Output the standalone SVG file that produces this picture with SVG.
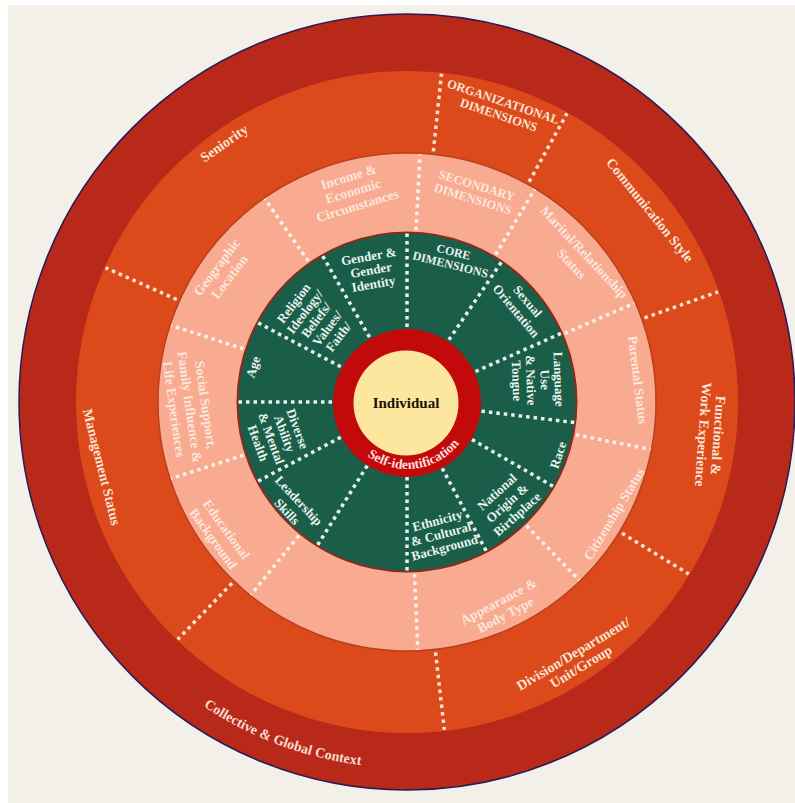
<svg xmlns="http://www.w3.org/2000/svg" width="795" height="803" viewBox="0 0 795 803">
  <defs>
    <style>
      text { font-family: "Liberation Serif", "Times New Roman", serif; font-weight: bold; text-anchor: middle; }
      .g { font-size: 13px; fill: #e9f3ee; }
      .gs { font-size: 12px; fill: #e9f3ee; }
      .p { font-size: 13.5px; fill: #fde7de; }
      .ps { font-size: 12.5px; fill: #fde7de; }
      .o { font-size: 14px; fill: #fbe4d5; }
      .os { font-size: 12.5px; fill: #fbe4d5; }
      .outer { font-size: 14px; fill: #f7ddd2; }
      .self { font-size: 13.5px; fill: #ffdede; }
      .dots-g { stroke: #e6f2ec; stroke-width: 3.5; stroke-dasharray: 3.5 4; fill: none; }
      .dots-p { stroke: #fff1ea; stroke-width: 3.5; stroke-dasharray: 3.5 4; fill: none; }
      .dots-o { stroke: #fae3d3; stroke-width: 3.5; stroke-dasharray: 3.5 4; fill: none; }
    </style>
    <!-- baseline arcs for curved labels -->
    <path id="arc-outer" d="M 88.4 582.2 A 366 366 0 0 0 529.2 747.0"/>
    <path id="arc-self" d="M 344.0 424.9 A 67 67 0 0 0 473.7 407.8"/>
  </defs>

  <!-- page -->
  <rect x="0" y="0" width="795" height="803" fill="#ffffff"/>
  <rect x="8" y="5" width="787" height="798" fill="#f3f0ea"/>

  <!-- concentric rings -->
  <g id="rings">
    <circle cx="407" cy="402" r="388" fill="#b9291a" stroke="#2a1a55" stroke-width="1.5"/>
    <circle cx="407" cy="402" r="331" fill="#dc4a1c"/>
    <circle cx="407" cy="402" r="249" fill="#f8ab90" stroke="#b8401f" stroke-width="1.5"/>
    <circle cx="407" cy="402" r="169.5" fill="#1a5e4a" stroke="#8a2b1e" stroke-width="2"/>
    <circle cx="407" cy="403" r="74" fill="#c20a0a"/>
  </g>

  <!-- dotted dividers between segments -->
  <g id="connectors" transform="translate(407,402)">
    <g class="dots-g">
      <line x1="75" y1="0" x2="169" y2="0" transform="rotate(-90)"/>
      <line x1="75" y1="0" x2="169" y2="0" transform="rotate(-120)"/>
      <line x1="75" y1="0" x2="169" y2="0" transform="rotate(-152)"/>
      <line x1="75" y1="0" x2="169" y2="0" transform="rotate(-180)"/>
      <line x1="75" y1="0" x2="169" y2="0" transform="rotate(-208)"/>
      <line x1="75" y1="0" x2="169" y2="0" transform="rotate(-238)"/>
      <line x1="75" y1="0" x2="169" y2="0" transform="rotate(-270)"/>
      <line x1="75" y1="0" x2="169" y2="0" transform="rotate(-298)"/>
      <line x1="75" y1="0" x2="169" y2="0" transform="rotate(-330)"/>
      <line x1="75" y1="0" x2="169" y2="0" transform="rotate(-353)"/>
      <line x1="75" y1="0" x2="169" y2="0" transform="rotate(-24)"/>
      <line x1="75" y1="0" x2="169" y2="0" transform="rotate(-56)"/>
    </g>
    <g class="dots-p">
      <line x1="172" y1="0" x2="248" y2="0" transform="rotate(-87)"/>
      <line x1="172" y1="0" x2="248" y2="0" transform="rotate(-125)"/>
      <line x1="172" y1="0" x2="248" y2="0" transform="rotate(-162)"/>
      <line x1="172" y1="0" x2="248" y2="0" transform="rotate(-198)"/>
      <line x1="172" y1="0" x2="248" y2="0" transform="rotate(-231)"/>
      <line x1="172" y1="0" x2="248" y2="0" transform="rotate(-272.5)"/>
      <line x1="172" y1="0" x2="248" y2="0" transform="rotate(-314)"/>
      <line x1="172" y1="0" x2="248" y2="0" transform="rotate(-349)"/>
      <line x1="172" y1="0" x2="248" y2="0" transform="rotate(-23.5)"/>
      <line x1="172" y1="0" x2="248" y2="0" transform="rotate(-59)"/>
    </g>
    <g class="dots-o">
      <line x1="252" y1="0" x2="330" y2="0" transform="rotate(-84)"/>
      <line x1="252" y1="0" x2="330" y2="0" transform="rotate(-61)"/>
      <line x1="252" y1="0" x2="330" y2="0" transform="rotate(-19.5)"/>
      <line x1="252" y1="0" x2="330" y2="0" transform="rotate(-328.6)"/>
      <line x1="252" y1="0" x2="330" y2="0" transform="rotate(-276.5)"/>
      <line x1="252" y1="0" x2="330" y2="0" transform="rotate(-226)"/>
      <line x1="252" y1="0" x2="330" y2="0" transform="rotate(-156)"/>
    </g>
  </g>

  <!-- centre -->
  <g id="individual">
    <circle cx="406" cy="403" r="52.5" fill="#fde69d"/>
    <text x="406" y="408" style="font-size:15px; fill:#1a1208;">Individual</text>
  </g>
  <g id="self-identification">
    <text class="self"><textPath href="#arc-self" startOffset="50%">Self-identification</textPath></text>
  </g>

  <!-- core dimensions (green ring) -->
  <g id="core-dimensions" transform="translate(452,258) rotate(14)">
    <text class="gs"><tspan x="0" y="-2.3">CORE</tspan><tspan x="0" y="10.7">DIMENSIONS</tspan></text>
  </g>
  <g id="gender" transform="translate(371,270) rotate(-10)">
    <text class="g"><tspan x="0" y="-9.5">Gender &amp;</tspan><tspan x="0" y="4.5">Gender</tspan><tspan x="0" y="18.5">Identity</tspan></text>
  </g>
  <g id="sexual-orientation" transform="translate(522,306) rotate(50)">
    <text class="g"><tspan x="0" y="-3">Sexual</tspan><tspan x="0" y="12">Orientation</tspan></text>
  </g>
  <g id="language" transform="translate(538,380) rotate(88)">
    <text class="g"><tspan x="0" y="-16.5">Language</tspan><tspan x="0" y="-2.5">Use</tspan><tspan x="0" y="11.5">&amp; Native</tspan><tspan x="0" y="25.5">Tongue</tspan></text>
  </g>
  <g id="race" transform="translate(558,455) rotate(-72)">
    <text class="g"><tspan x="0" y="4.5">Race</tspan></text>
  </g>
  <g id="national-origin" transform="translate(507,503) rotate(-42)">
    <text class="g"><tspan x="0" y="-10.5">National</tspan><tspan x="0" y="4.5">Origin &amp;</tspan><tspan x="0" y="19.5">Birthplace</tspan></text>
  </g>
  <g id="ethnicity" transform="translate(441,534) rotate(-15)">
    <text class="g"><tspan x="0" y="-9.5">Ethnicity</tspan><tspan x="0" y="4.5">&amp; Cultural</tspan><tspan x="0" y="18.5">Background</tspan></text>
  </g>
  <g id="leadership" transform="translate(293,506) rotate(47)">
    <text class="g"><tspan x="0" y="-3.5">Leadership</tspan><tspan x="0" y="12.5">Skills</tspan></text>
  </g>
  <g id="diverse-ability" transform="translate(278,436) rotate(70)">
    <text class="g"><tspan x="0" y="-16.5">Diverse</tspan><tspan x="0" y="-2.5">Ability</tspan><tspan x="0" y="11.5">&amp; Mental</tspan><tspan x="0" y="25.5">Health</tspan></text>
  </g>
  <g id="age" transform="translate(253,367) rotate(-72)">
    <text class="g"><tspan x="0" y="4.5">Age</tspan></text>
  </g>
  <g id="religion" transform="translate(316,320) rotate(-53)">
    <text class="g"><tspan x="0" y="-23.5">Religion</tspan><tspan x="0" y="-9.5">Ideology/</tspan><tspan x="0" y="4.5">Beliefs/</tspan><tspan x="0" y="18.5">Values/</tspan><tspan x="0" y="32.5">Faith/</tspan></text>
  </g>

  <!-- secondary dimensions (pink ring) -->
  <g id="secondary-dimensions" transform="translate(475,192) rotate(17)">
    <text class="ps"><tspan x="0" y="-2.6">SECONDARY</tspan><tspan x="0" y="11.4">DIMENSIONS</tspan></text>
  </g>
  <g id="income" transform="translate(353,191) rotate(-17)">
    <text class="p"><tspan x="0" y="-10.3">Income &amp;</tspan><tspan x="0" y="4.7">Economic</tspan><tspan x="0" y="19.7">Circumstances</tspan></text>
  </g>
  <g id="marital-status" transform="translate(578,258) rotate(47)">
    <text class="p"><tspan x="0" y="-3.8">Marital/Relationship</tspan><tspan x="0" y="13.2">Status</tspan></text>
  </g>
  <g id="parental-status" transform="translate(638,380) rotate(83)">
    <text class="p"><tspan x="0" y="4.7">Parental Status</tspan></text>
  </g>
  <g id="citizenship-status" transform="translate(614,514) rotate(-59)">
    <text class="p"><tspan x="0" y="4.7">Citizenship Status</tspan></text>
  </g>
  <g id="appearance" transform="translate(502,608) rotate(-28)">
    <text class="p"><tspan x="0" y="-2.8">Appearance &amp;</tspan><tspan x="0" y="12.2">Body Type</tspan></text>
  </g>
  <g id="educational-background" transform="translate(220,534) rotate(54)">
    <text class="p"><tspan x="0" y="-3.3">Educational</tspan><tspan x="0" y="12.7">Background</tspan></text>
  </g>
  <g id="social-support" transform="translate(190,407) rotate(82)">
    <text class="p"><tspan x="0" y="-11.3">Social Support,</tspan><tspan x="0" y="4.7">Family Influence &amp;</tspan><tspan x="0" y="20.7">Life Experiences</tspan></text>
  </g>
  <g id="geographic-location" transform="translate(223,272) rotate(-53)">
    <text class="p"><tspan x="0" y="-3.3">Geographic</tspan><tspan x="0" y="12.7">Location</tspan></text>
  </g>

  <!-- organizational dimensions (orange ring) -->
  <g id="organizational-dimensions" transform="translate(501,108) rotate(18.5)">
    <text class="os"><tspan x="0" y="-2.6">ORGANIZATIONAL</tspan><tspan x="0" y="11.4">DIMENSIONS</tspan></text>
  </g>
  <g id="seniority" transform="translate(224,143) rotate(-35)">
    <text class="o"><tspan x="0" y="4.9">Seniority</tspan></text>
  </g>
  <g id="communication-style" transform="translate(650,210) rotate(51)">
    <text class="o"><tspan x="0" y="4.9">Communication Style</tspan></text>
  </g>
  <g id="functional-experience" transform="translate(711,435) rotate(94)">
    <text class="o"><tspan x="0" y="-2.6">Functional &amp;</tspan><tspan x="0" y="12.4">Work Experience</tspan></text>
  </g>
  <g id="division" transform="translate(577,660) rotate(-31)">
    <text class="o"><tspan x="0" y="-2.6">Division/Department/</tspan><tspan x="0" y="12.4">Unit/Group</tspan></text>
  </g>
  <g id="management-status" transform="translate(102,467) rotate(76)">
    <text class="o"><tspan x="0" y="4.9">Management Status</tspan></text>
  </g>

  <!-- outermost ring -->
  <g id="collective-context">
    <text class="outer"><textPath href="#arc-outer" startOffset="50%">Collective &amp; Global Context</textPath></text>
  </g>
</svg>
